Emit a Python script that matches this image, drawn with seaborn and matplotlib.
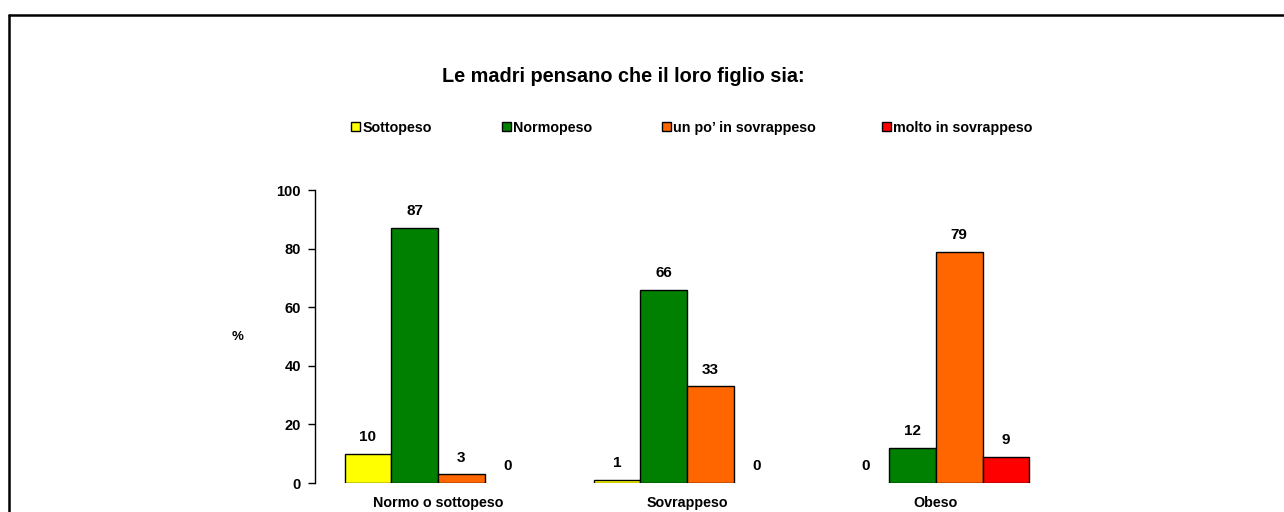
import pandas as pd
import matplotlib.pyplot as plt
import seaborn as sns
from matplotlib.lines import Line2D

# --- Data ---
groups = ["Normo o sottopeso", "Sovrappeso", "Obeso"]
perceptions = ["Sottopeso", "Normopeso", "un po’ in sovrappeso", "molto in sovrappeso"]
sottopeso = [10, 1, 0]
normopeso = [87, 66, 12]
un_po_sovrappeso = [3, 33, 79]
molto_sovrappeso = [0, 0, 9]
colors = ["#FFFF00", "#008000", "#FF6600", "#FF0000"]

rows = []
for p, vals in zip(perceptions, [sottopeso, normopeso, un_po_sovrappeso, molto_sovrappeso]):
    for g, v in zip(groups, vals):
        rows.append({"Gruppo": g, "Percezione": p, "Valore": v})
df = pd.DataFrame(rows)

# --- Style ---
sns.set_style("white")
plt.rcParams["font.family"] = ["Liberation Sans", "DejaVu Sans"]
plt.rcParams["font.weight"] = "bold"
for k in ["text.color", "axes.labelcolor", "xtick.color", "ytick.color"]:
    plt.rcParams[k] = "black"

fig = plt.figure(figsize=(12.84, 5.12), dpi=100)
ax = fig.add_axes([0.2453, 0.0566, 0.5806, 0.5723])

sns.barplot(data=df, x="Gruppo", y="Valore", hue="Percezione", order=groups,
            hue_order=perceptions, palette=colors, width=0.75,
            edgecolor="black", linewidth=1, saturation=1, ax=ax)

# value labels; hide zero-height bars
for cont in ax.containers:
    for bar in cont:
        if bar.get_height() == 0:
            bar.set_linewidth(0)
    ax.bar_label(cont, fmt="%d", padding=7, fontsize=11, fontweight="bold", color="black")

ax.set_ylim(0, 100)
ax.set_xlim(-0.494, 2.5)
ax.set_yticks([0, 20, 40, 60, 80, 100])
ax.tick_params(axis="y", left=True, length=5, width=1, direction="out", labelsize=10.5, pad=5)
ax.tick_params(axis="x", bottom=False, labelsize=10.3, pad=6)
for lab in ax.get_xticklabels() + ax.get_yticklabels():
    lab.set_fontweight("bold")
ax.set_xlabel("")
ax.set_ylabel("%", rotation=0, fontsize=9.5, fontweight="bold", labelpad=28, va="center")
ax.spines["left"].set_color("black")
ax.spines["left"].set_linewidth(1)
for s in ["top", "right", "bottom"]:
    ax.spines[s].set_visible(False)

# legend across the top: one entry per legend, spaced like the original
handles, labels = ax.get_legend_handles_labels()
ax.get_legend().remove()
legend_x = [351, 502, 662, 882]
for h, l, x in zip(handles, labels, legend_x):
    fig.legend([h], [l], loc="center left", bbox_to_anchor=(x / 1284, 1 - 128 / 512),
               frameon=False, borderpad=0, borderaxespad=0,
               handlelength=0.6, handleheight=0.6, handletextpad=0.2,
               prop={"weight": "bold", "size": 10.3})

fig.text(623 / 1284, 1 - 77 / 512, "Le madri pensano che il loro figlio sia:",
         ha="center", va="center", fontsize=14.3, fontweight="bold")

# outer frame (left and top edges)
fig.add_artist(Line2D([9 / 1284, 9 / 1284], [0, 1 - 15 / 512], color="black", linewidth=1.8,
                      transform=fig.transFigure))
fig.add_artist(Line2D([9 / 1284, 1], [1 - 15 / 512, 1 - 15 / 512], color="black", linewidth=1.8,
                      transform=fig.transFigure))

fig.savefig("out.png", dpi=100)
